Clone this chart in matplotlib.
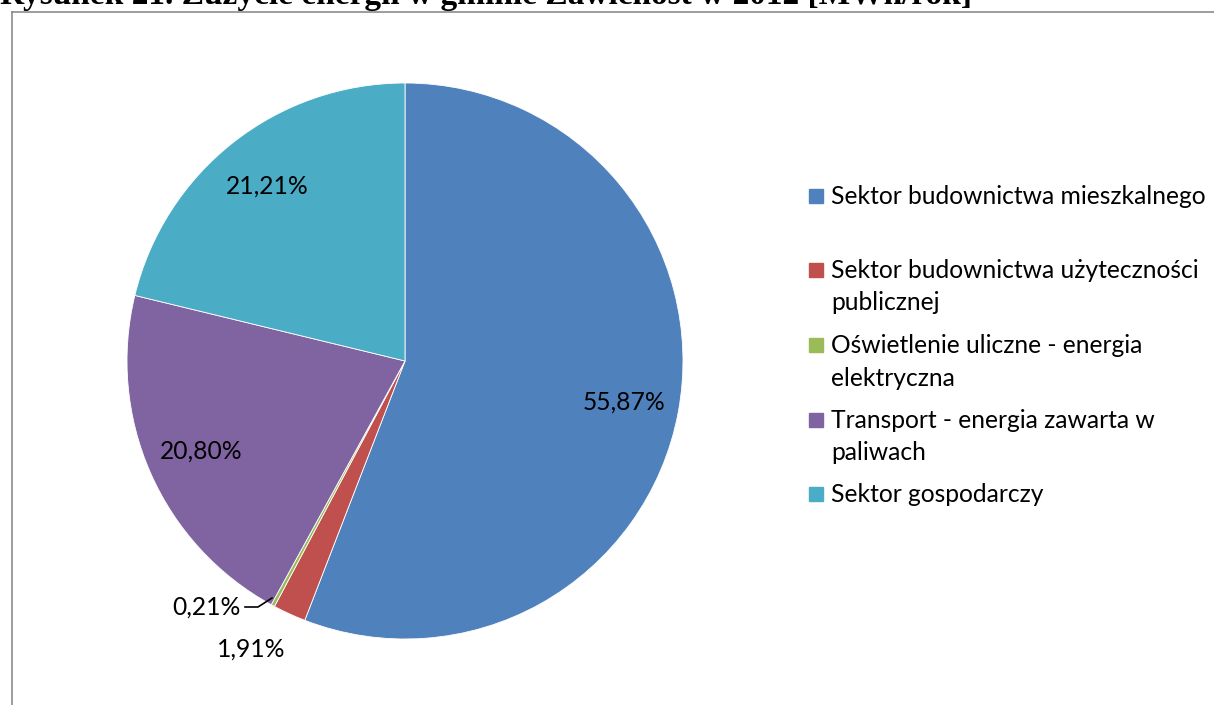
import matplotlib
matplotlib.use("Agg")
import matplotlib.pyplot as plt
from matplotlib.patches import Rectangle
from matplotlib.lines import Line2D
import numpy as np

categories = [
    "Sektor budownictwa mieszkalnego",
    "Sektor budownictwa użyteczności\npublicznej",
    "Oświetlenie uliczne - energia\nelektryczna",
    "Transport - energia zawarta w\npaliwach",
    "Sektor gospodarczy",
]
values = [55.87, 1.91, 0.21, 20.80, 21.21]
colors = ["#4F81BD", "#C0504D", "#9BBB59", "#8064A2", "#4BACC6"]
title = "Rysunek 21. Zużycie energii w gminie Zawichost w 2012 [MWh/rok]"

W, H = 1214, 705
fig = plt.figure(figsize=(W / 100, H / 100), dpi=100)
font = ["Lato", "DejaVu Sans"]
FS = 17.7

# title (clipped at top, as in the reference)
fig.text(0.0, 1 - 4 / H, title, family=["Liberation Serif"], weight="bold",
         fontsize=24, va="baseline", ha="left")

# frame
fig.add_artist(Line2D([12.5 / W, 12.5 / W], [0, 1 - 11.5 / H], color="#8c8c8c", lw=1.2))
fig.add_artist(Line2D([12.5 / W, 1], [1 - 11.5 / H, 1 - 11.5 / H], color="#8c8c8c", lw=1.2))

cx, cy, r = 405, 361, 278
ax = fig.add_axes([(cx - r) / W, (H - cy - r) / H, 2 * r / W, 2 * r / H])
wedges, _ = ax.pie(values, colors=colors, startangle=90, counterclock=False,
                   radius=1, wedgeprops=dict(edgecolor="white", linewidth=0.6))
ax.set_xlim(-1, 1)
ax.set_ylim(-1, 1)
ax.set_aspect("equal")
ax.axis("off")

def fmt(v):
    return f"{v:.2f}".replace(".", ",") + "%"

def pc(px, py):
    return ((px - cx) / r, (cy - py) / r)

for w, v in zip(wedges, values):
    if v < 5:
        continue
    ang = np.deg2rad((w.theta1 + w.theta2) / 2)
    d = 0.80
    ax.text(d * np.cos(ang), d * np.sin(ang), fmt(v), ha="center", va="center",
            fontsize=FS, family=font, color="black")

ax.text(*pc(241, 607), fmt(values[2]), ha="right", va="center", fontsize=FS,
        family=font, color="black")
ax.add_line(Line2D(*zip(pc(245, 607), pc(258, 607), pc(272, 598)), color="black", lw=1.2))
ax.text(*pc(251, 649), fmt(values[1]), ha="center", va="center", fontsize=FS,
        family=font, color="black")

ys = [196, 270, 345, 420, 494]
for y, c, lab in zip(ys, colors, categories):
    fig.add_artist(Rectangle((809 / W, 1 - (y + 7) / H), 14 / W, 14 / H, color=c,
                             transform=fig.transFigure))
    fig.text(831 / W, 1 - (y - 11) / H, lab, ha="left", va="top", fontsize=FS,
             family=font, color="black", linespacing=1.5)

fig.savefig("out.png", dpi=100)
